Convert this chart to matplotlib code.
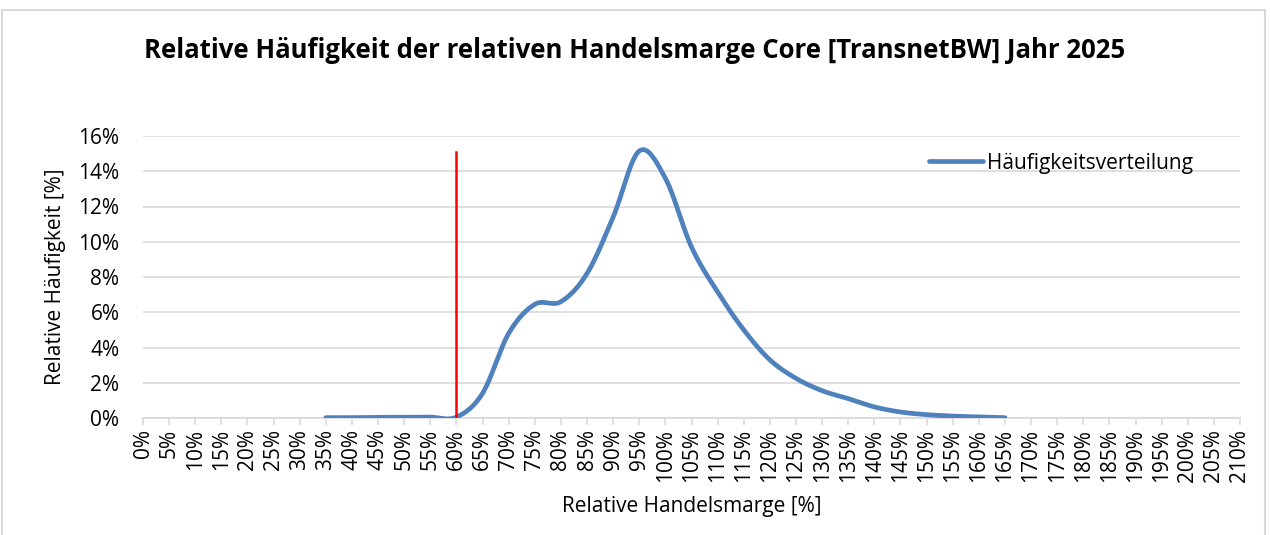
import matplotlib.pyplot as plt
from matplotlib.patches import Rectangle
import numpy as np

plt.rcParams['font.family'] = ['Open Sans', 'DejaVu Sans']

# x categories 0% .. 210% step 5%
categories = [f'{p}%' for p in range(0, 215, 5)]
# series: relative frequency [%] for 35% .. 165%
marge = [35, 40, 45, 50, 55, 60, 65, 70, 75, 80, 85, 90, 95, 100,
         105, 110, 115, 120, 125, 130, 135, 140, 145, 150, 155, 160, 165]
haeufigkeit = [0.02, 0.02, 0.04, 0.04, 0.05, 0.05, 1.4, 4.8, 6.45, 6.6, 8.2, 11.4, 15.15, 13.6,
               9.7, 7.15, 5.0, 3.3, 2.25, 1.55, 1.1, 0.63, 0.34, 0.19, 0.11, 0.06, 0.02]
grenze = 60      # red marker line position [%]
grenze_top = 15.1


def smooth(x, y, n=20):
    # Excel-like smoothed line (cardinal bezier through the points)
    x = np.asarray(x, float)
    y = np.asarray(y, float)
    px, py = [], []
    for i in range(len(x) - 1):
        x0, y0 = (x[i - 1], y[i - 1]) if i > 0 else (x[i], y[i])
        x3, y3 = (x[i + 2], y[i + 2]) if i + 2 < len(x) else (x[i + 1], y[i + 1])
        x1, y1 = x[i], y[i]
        x2, y2 = x[i + 1], y[i + 1]
        c1x, c1y = x1 + (x2 - x0) / 6, y1 + (y2 - y0) / 6
        c2x, c2y = x2 - (x3 - x1) / 6, y2 - (y3 - y1) / 6
        t = np.linspace(0, 1, n)
        bx = (1-t)**3*x1 + 3*(1-t)**2*t*c1x + 3*(1-t)*t**2*c2x + t**3*x2
        by = (1-t)**3*y1 + 3*(1-t)**2*t*c1y + 3*(1-t)*t**2*c2y + t**3*y2
        px.extend(bx)
        py.extend(by)
    return np.array(px), np.array(py)


fig = plt.figure(figsize=(12.7, 5.35), dpi=100)
fig.patches.append(Rectangle((2 / 1270, -0.01), 1263 / 1270, 1 - 10 / 535 + 0.01,
                             transform=fig.transFigure, fill=False,
                             edgecolor='#d9d9d9', linewidth=1.5))
ax = fig.add_axes([143 / 1270, 1 - 418 / 535, 1097 / 1270, 282 / 535])

sx, sy = smooth(np.array(marge) / 5, haeufigkeit)
ax.plot(sx, sy, color='#4f81bd', linewidth=3.4, solid_capstyle='round',
        label='Häufigkeitsverteilung', zorder=3)
ax.plot([grenze / 5, grenze / 5], [0, grenze_top], color='#ff0000', linewidth=1.8, zorder=4)

ax.set_xlim(0, len(categories) - 1)
ax.set_ylim(0, 16)
ax.set_xticks(np.arange(len(categories)))
ax.set_xticklabels(categories, rotation=90, fontsize=15)
ax.set_yticks(np.arange(0, 17, 2))
ax.set_yticklabels([f'{v}%' for v in range(0, 17, 2)], fontsize=15)
ax.grid(axis='y', color='#d9d9d9', linewidth=1.2)
ax.set_axisbelow(True)
for s in ['top', 'right', 'left']:
    ax.spines[s].set_visible(False)
ax.spines['bottom'].set_color('#d9d9d9')
ax.spines['bottom'].set_linewidth(1.2)
ax.tick_params(axis='x', colors='#d9d9d9', labelcolor='black', length=5, width=1.2, pad=3)
ax.tick_params(axis='y', length=0, pad=17)

ax.set_xlabel('Relative Handelsmarge [%]', fontsize=15, labelpad=10)
ax.set_ylabel('Relative Häufigkeit [%]', fontsize=15, labelpad=9)
fig.text(0.5, 1 - 50 / 535, 'Relative Häufigkeit der relativen Handelsmarge Core [TransnetBW] Jahr 2025',
         ha='center', va='center', fontsize=18.5, fontweight='bold')

ax.legend(loc='center left', bbox_to_anchor=((929 - 143) / 1097, (418 - 163) / 282),
          frameon=False, fontsize=15, handlelength=2.6, handletextpad=0.2,
          borderaxespad=0, borderpad=0)

fig.savefig('out.png')
